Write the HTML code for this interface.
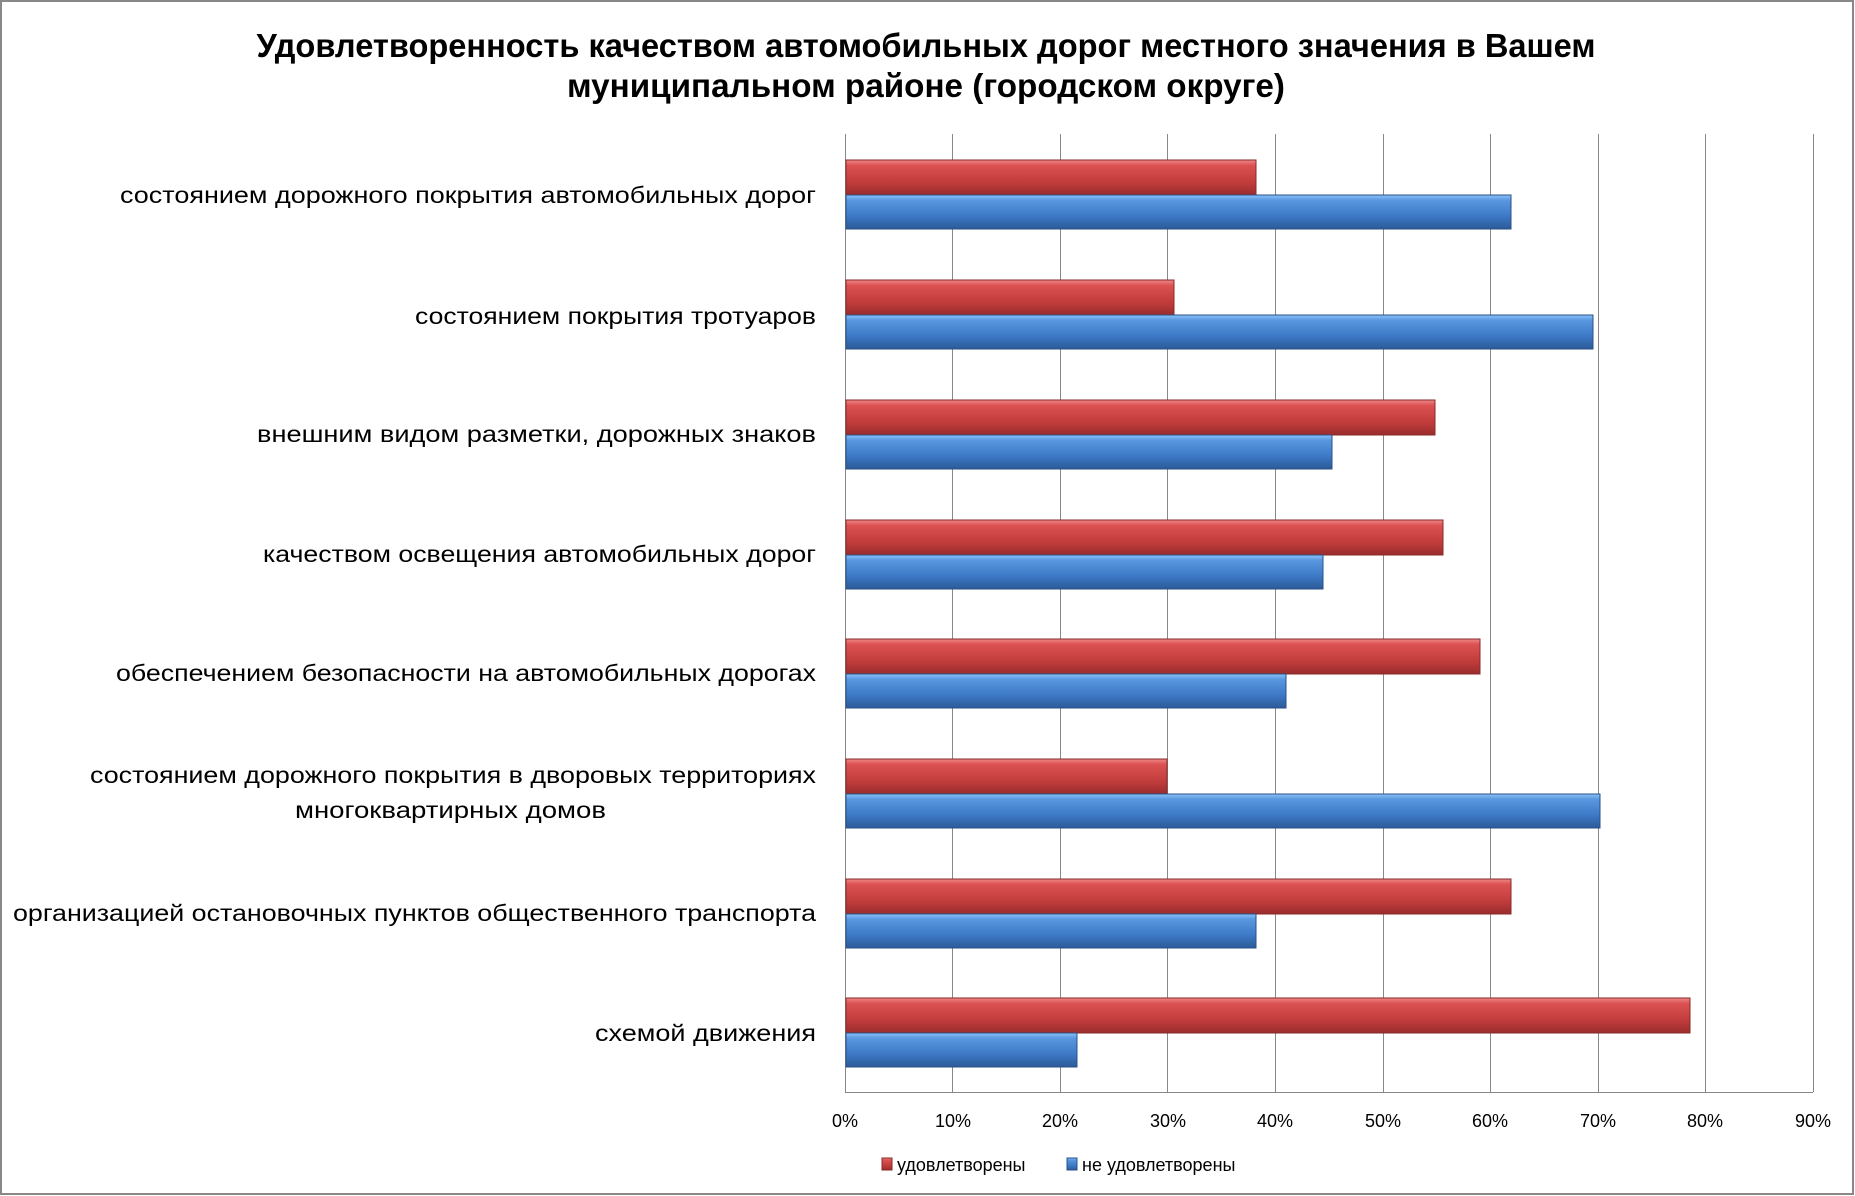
<!DOCTYPE html>
<html><head><meta charset="utf-8"><style>
html,body{margin:0;padding:0;background:#fff}
svg{display:block}
text{font-family:"Liberation Sans",sans-serif;fill:#000}
</style></head><body>
<svg width="1855" height="1196" viewBox="0 0 1855 1196" xmlns="http://www.w3.org/2000/svg">
<defs>
<linearGradient id="r" x1="0" y1="0" x2="0" y2="1">
<stop offset="0" stop-color="#f08a8a"/><stop offset="0.15" stop-color="#dc5252"/><stop offset="0.6" stop-color="#c43e3e"/><stop offset="1" stop-color="#9a2c2c"/></linearGradient>
<linearGradient id="b" x1="0" y1="0" x2="0" y2="1">
<stop offset="0" stop-color="#8cc4f8"/><stop offset="0.15" stop-color="#5a98e0"/><stop offset="0.6" stop-color="#3e7ac8"/><stop offset="1" stop-color="#2c5a98"/></linearGradient>
</defs>
<rect x="1" y="1" width="1852" height="1193" fill="#fff" stroke="#888" stroke-width="2"/>
<text x="926" y="57" text-anchor="middle" font-weight="bold" font-size="33" textLength="1339" lengthAdjust="spacingAndGlyphs">Удовлетворенность качеством автомобильных дорог местного значения в Вашем</text>
<text x="926" y="97" text-anchor="middle" font-weight="bold" font-size="33" textLength="718" lengthAdjust="spacingAndGlyphs">муниципальном районе (городском округе)</text>
<g stroke="#888" stroke-width="1">
<line x1="952.5" y1="134" x2="952.5" y2="1092"/><line x1="1060.5" y1="134" x2="1060.5" y2="1092"/>
<line x1="1167.5" y1="134" x2="1167.5" y2="1092"/><line x1="1275.5" y1="134" x2="1275.5" y2="1092"/>
<line x1="1383.5" y1="134" x2="1383.5" y2="1092"/><line x1="1490.5" y1="134" x2="1490.5" y2="1092"/>
<line x1="1598.5" y1="134" x2="1598.5" y2="1092"/><line x1="1705.5" y1="134" x2="1705.5" y2="1092"/>
<line x1="1813.5" y1="134" x2="1813.5" y2="1092"/>
<line x1="845.5" y1="134" x2="845.5" y2="1092"/><line x1="845" y1="1092.5" x2="1813" y2="1092.5"/>
</g>
<g stroke-width="1">
<rect x="846" y="160" width="410" height="35" fill="url(#r)" stroke="#8a2a2a"/>
<rect x="846" y="195" width="665" height="34" fill="url(#b)" stroke="#2a5088"/>
<rect x="846" y="280" width="328" height="35" fill="url(#r)" stroke="#8a2a2a"/>
<rect x="846" y="315" width="747" height="34" fill="url(#b)" stroke="#2a5088"/>
<rect x="846" y="400" width="589" height="35" fill="url(#r)" stroke="#8a2a2a"/>
<rect x="846" y="435" width="486" height="34" fill="url(#b)" stroke="#2a5088"/>
<rect x="846" y="520" width="597" height="35" fill="url(#r)" stroke="#8a2a2a"/>
<rect x="846" y="555" width="477" height="34" fill="url(#b)" stroke="#2a5088"/>
<rect x="846" y="639" width="634" height="35" fill="url(#r)" stroke="#8a2a2a"/>
<rect x="846" y="674" width="440" height="34" fill="url(#b)" stroke="#2a5088"/>
<rect x="846" y="759" width="321" height="35" fill="url(#r)" stroke="#8a2a2a"/>
<rect x="846" y="794" width="754" height="34" fill="url(#b)" stroke="#2a5088"/>
<rect x="846" y="879" width="665" height="35" fill="url(#r)" stroke="#8a2a2a"/>
<rect x="846" y="914" width="410" height="34" fill="url(#b)" stroke="#2a5088"/>
<rect x="846" y="998" width="844" height="35" fill="url(#r)" stroke="#8a2a2a"/>
<rect x="846" y="1033" width="231" height="34" fill="url(#b)" stroke="#2a5088"/>
</g>
<g font-size="23" text-anchor="end">
<text x="816" y="203" textLength="696" lengthAdjust="spacingAndGlyphs">состоянием дорожного покрытия автомобильных дорог</text>
<text x="816" y="324" textLength="401" lengthAdjust="spacingAndGlyphs">состоянием покрытия тротуаров</text>
<text x="816" y="442" textLength="559" lengthAdjust="spacingAndGlyphs">внешним видом разметки, дорожных знаков</text>
<text x="816" y="562" textLength="553" lengthAdjust="spacingAndGlyphs">качеством освещения автомобильных дорог</text>
<text x="816" y="681" textLength="700" lengthAdjust="spacingAndGlyphs">обеспечением безопасности на автомобильных дорогах</text>
<text x="816" y="783" textLength="726" lengthAdjust="spacingAndGlyphs">состоянием дорожного покрытия в дворовых территориях</text>
<text x="606" y="818" textLength="311" lengthAdjust="spacingAndGlyphs">многоквартирных домов</text>
<text x="816" y="921" textLength="803" lengthAdjust="spacingAndGlyphs">организацией остановочных пунктов общественного транспорта</text>
<text x="816" y="1041" textLength="221" lengthAdjust="spacingAndGlyphs">схемой движения</text>
</g>
<g font-size="18" text-anchor="middle">
<text x="845" y="1127">0%</text><text x="953" y="1127">10%</text><text x="1060" y="1127">20%</text>
<text x="1168" y="1127">30%</text><text x="1275" y="1127">40%</text><text x="1383" y="1127">50%</text>
<text x="1490" y="1127">60%</text><text x="1598" y="1127">70%</text><text x="1705" y="1127">80%</text>
<text x="1813" y="1127">90%</text>
</g>
<rect x="882" y="1158" width="10" height="12" fill="url(#r)" stroke="#8a2a2a"/>
<text x="897" y="1171" font-size="18">удовлетворены</text>
<rect x="1067" y="1158" width="10" height="12" fill="url(#b)" stroke="#2a5088"/>
<text x="1082" y="1171" font-size="18">не удовлетворены</text>
</svg>
</body></html>
